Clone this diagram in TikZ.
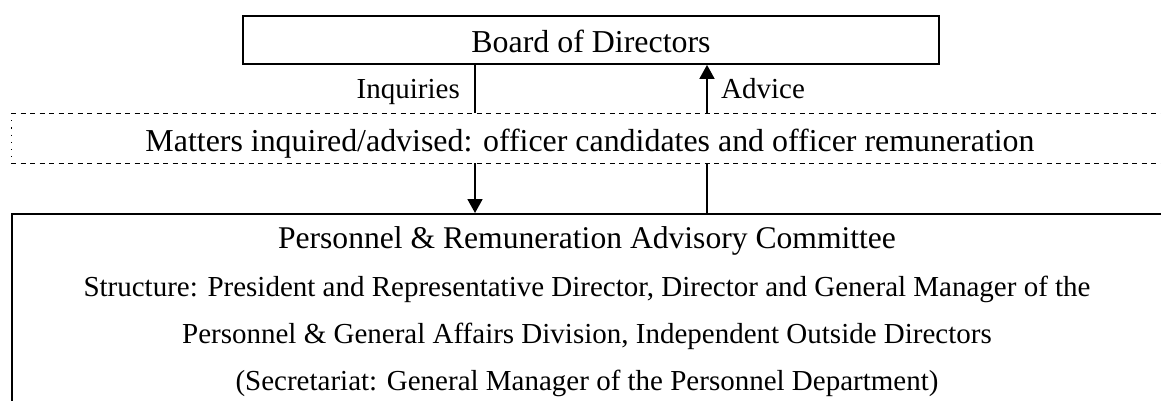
\documentclass[tikz,border=0pt]{standalone}
\usepackage{fontspec}
\setmainfont{Liberation Serif}
\usetikzlibrary{arrows.meta}
\begin{document}
\begin{tikzpicture}[x=1pt,y=-1pt,
  solidbox/.style={draw, line width=1.8pt, inner sep=0pt},
  txt/.style={inner sep=0pt, anchor=base},
  bigtxt/.style={txt, font=\fontsize{31.9}{36}\selectfont},
  midtxt/.style={txt, font=\fontsize{31.6}{36}\selectfont},
  smalltxt/.style={txt, font=\fontsize{29}{33}\selectfont},
  flow/.style={line width=1.8pt},
  flowarrow/.style={flow, -{Triangle[length=14pt,width=15pt]}},
  dashline/.style={line width=1pt, dash pattern=on 5pt off 4.5pt},
  dotline/.style={line width=1pt, dash pattern=on 1.2pt off 6pt}]
\useasboundingbox (0,0) rectangle (1161,400);
\begin{scope}
\clip (0,0) rectangle (1161,400);

% Board of Directors
\node[solidbox, minimum width=696pt, minimum height=48pt] (board) at (591,40) {};
\node[bigtxt] (boardtxt) at (591,52) {Board of Directors};

% Scope of the inquiries, shown as an open dashed band
\node[inner sep=0pt, minimum width=1170pt, minimum height=50pt, anchor=north west] (matters) at (11,113) {};
\draw[dashline] (matters.north west) -- (matters.north east);
\draw[dashline] (matters.south west) -- (matters.south east);
\draw[dotline] (matters.north west) -- (matters.south west);
\node[bigtxt] (matterstxt) at (590,151) {Matters inquired/advised: officer candidates and officer remuneration};

% Advisory committee
\node[solidbox, minimum width=1170pt, minimum height=200pt, anchor=north west] (committee) at (11,213) {};
\node[midtxt] (cline1) at (587,248) {Personnel \& Remuneration Advisory Committee};
\node[smalltxt] (cline2) at (587,296) {Structure: President and Representative Director, Director and General Manager of the};
\node[smalltxt] (cline3) at (587,343) {Personnel \& General Affairs Division, Independent Outside Directors};
\node[smalltxt] (cline4) at (587,390) {(Secretariat: General Manager of the Personnel Department)};

% Connector positions
\coordinate (inq) at (475,0);
\coordinate (adv) at (707,0);

% Inquiries: board down to committee
\draw[flow] (board.south -| inq) -- (matters.north -| inq);
\draw[flowarrow] (matters.south -| inq) -- (committee.north -| inq);
\node[smalltxt, anchor=base east] (inqtxt) at (460,98) {Inquiries};

% Advice: committee up to board
\draw[flow] (committee.north -| adv) -- (matters.south -| adv);
\draw[flowarrow] (matters.north -| adv) -- (board.south -| adv);
\node[smalltxt, anchor=base west] (advtxt) at (721,98) {Advice};
\end{scope}
\end{tikzpicture}
\end{document}
